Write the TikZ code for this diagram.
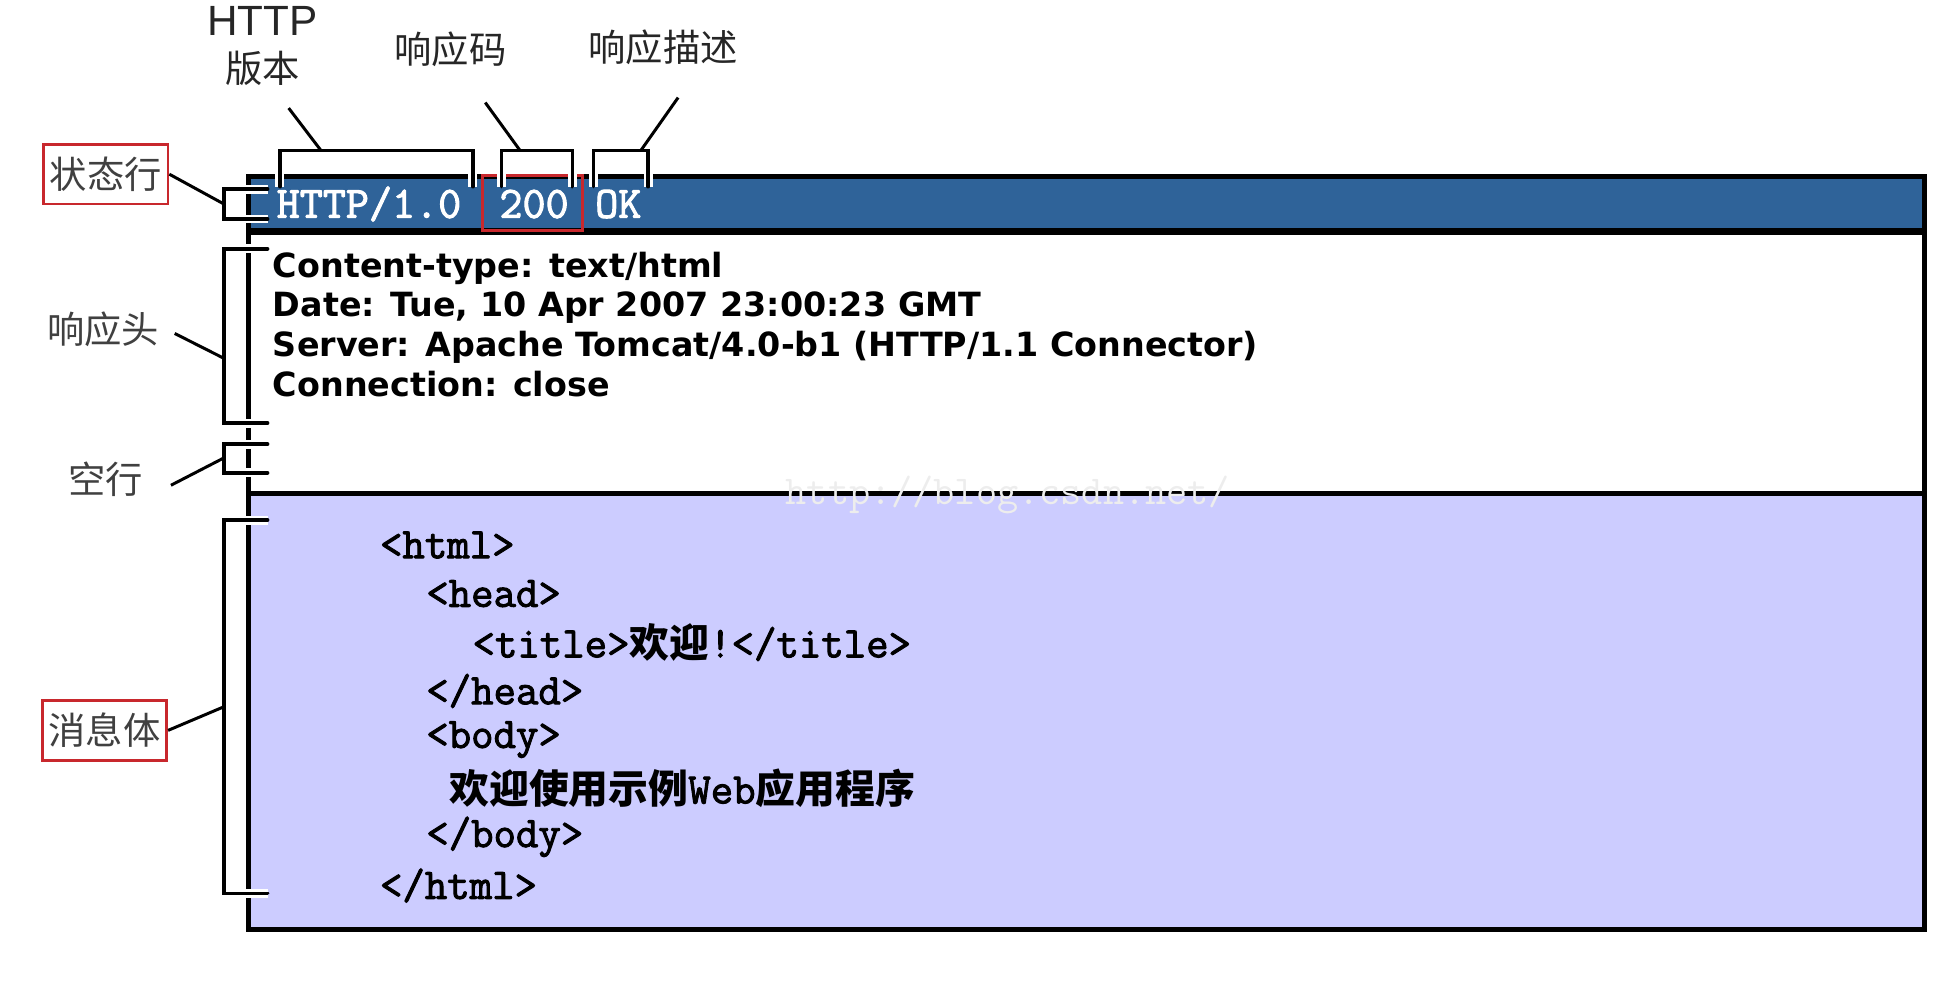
\documentclass[tikz,border=0pt]{standalone}
\usepackage{fontspec}
\usepackage{tikz}
\newfontfamily\cjk{Noto Sans CJK SC}
\newfontfamily\hdrfont{DejaVu Sans}
\newfontfamily\lblfont{Liberation Sans}
\newfontfamily\codefont[AutoFakeBold=2.2]{Latin Modern Mono}
\definecolor{bandblue}{RGB}{47,99,153}
\definecolor{bodylav}{RGB}{204,204,255}
\definecolor{markred}{RGB}{200,40,45}

\begin{document}
\begin{tikzpicture}[x=0.5pt,y=-0.5pt,
toplbl/.style={font=\cjk\fontsize{15}{18.5}\selectfont, text=black!85, inner sep=2pt, align=center},
sidelbl/.style={font=\cjk\fontsize{15}{18}\selectfont, text=black!75, inner sep=2pt},
redbox/.style={draw=markred, line width=1.1pt, minimum width=50pt, minimum height=24pt},
brk/.style={line width=1.5pt, line cap=round, line join=miter, preaction={draw=white, line width=3.6pt}},
lead/.style={line width=1.2pt},
hdr/.style={anchor=north west, inner sep=0pt, align=left, font=\hdrfont\bfseries\fontsize{13.4}{16}\selectfont},
code/.style={anchor=west, inner sep=0pt, font=\codefont\bfseries\fontsize{17.5}{20}\selectfont},
stat/.style={anchor=west, inner sep=0pt, text=white, font=\codefont\bfseries\fontsize{18}{20}\selectfont}]
\useasboundingbox (0,0) rectangle (1568,790);

\fill[bandblue] (200,142) rectangle (1547,186);
\fill[bodylav] (200,397) rectangle (1547,747);
\draw[line width=2.5pt] (200,186) -- (1547,186);
\draw[line width=2pt] (200,397) -- (1547,397);
\draw[line width=2pt] (200,142) rectangle (1547,747);
\node[text=black!7, font=\ttfamily\fontsize{16.5}{16}\selectfont] (wm) at (810,398) {http://blog.csdn.net/};

\node[stat] (ver) at (222,164) {HTTP/1.0};
\node[stat] (rc) at (401,164) {200};
\node[stat] (desc) at (478,164) {OK};
\draw[draw=markred, line width=1.1pt] (388,141) rectangle (468,185);

\node[hdr] (hdr) at (219,202) {Content-type: text/html\\Date: Tue, 10 Apr 2007 23:00:23 GMT\\
Server: Apache Tomcat/4.0-b1 (HTTP/1.1 Connector)\\Connection: close};

\foreach \ind/\txt [count=\i] in {0/{<html>}, 2/{<head>}, 4/{<title>{\cjk\bfseries\fontsize{16}{20}\selectfont 欢迎}!</title>},
  2/{</head>}, 2/{<body>}, 3/{{\cjk\bfseries\fontsize{16}{20}\selectfont 欢迎使用示例}Web{\cjk\bfseries\fontsize{16}{20}\selectfont 应用程序}},
  2/{</body>}, 0/{</html>}}
  \node[code] (b\i) at (305+\ind*18.6, 438+\i*39.1-39.1) {\txt};

% labels
\node[toplbl] (verlbl) at (211,37) {{\lblfont\fontsize{17}{18.5}\selectfont HTTP}\\版本};
\node[toplbl] (rclbl) at (362,40) {响应码};
\node[toplbl] (desclbl) at (533,38) {响应描述};
\node[sidelbl, redbox] (stlbl) at (85,140) {状态行};
\node[sidelbl] (hdlbl) at (83,265) {响应头};
\node[sidelbl] (bllbl) at (85,385) {空行};
\node[sidelbl, redbox] (bdlbl) at (84,587) {消息体};

% brackets
\coordinate (vtop) at (258,121);
\coordinate (rtop) at (418,121);
\coordinate (dtop) at (515,121);
\coordinate (stmid) at (180,164);
\coordinate (hdmid) at (180,288);
\coordinate (blmid) at (180,368);
\coordinate (bdmid) at (180,568);
\draw[brk] (225,150) -- (225,121) -- (380,121) -- (380,150);
\draw[brk] (403,150) -- (403,121) -- (460,121) -- (460,150);
\draw[brk] (477,150) -- (477,121) -- (521,121) -- (521,150);
\draw[brk] (215,152) -- (180,152) -- (180,176) -- (215,176);
\draw[brk] (215,200) -- (180,200) -- (180,340) -- (215,340);
\draw[brk] (215,357) -- (180,357) -- (180,380) -- (215,380);
\draw[brk] (215,418) -- (180,418) -- (180,718) -- (215,718);

\draw[lead] ([shift={(21,14)}]verlbl.south) -- (vtop);
\draw[lead] ([shift={(28,24)}]rclbl.south) -- (rtop);
\draw[lead] ([shift={(12,22)}]desclbl.south) -- (dtop);
\draw[lead] (stlbl.east) -- (stmid);
\draw[lead] ([shift={(8,3)}]hdlbl.east) -- (hdmid);
\draw[lead] ([shift={(18,5)}]bllbl.east) -- (blmid);
\draw[lead] (bdlbl.east) -- (bdmid);
\end{tikzpicture}
\end{document}
